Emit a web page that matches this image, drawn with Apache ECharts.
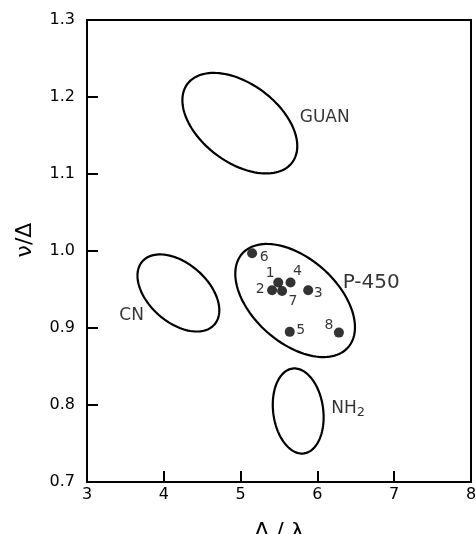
<!DOCTYPE html>
<html>
<head>
<meta charset="utf-8">
<script src="https://cdn.jsdelivr.net/npm/echarts@6/dist/echarts.min.js"></script>
<style>
  html, body { margin: 0; padding: 0; background: #fff; }
  #chart { width: 476px; height: 534px; }
</style>
</head>
<body>
<div id="chart"></div>
<script>
// numbered compounds
const pointNames = ['1', '2', '3', '4', '5', '6', '7', '8'];
const pointX = [5.49, 5.41, 5.88, 5.65, 5.64, 5.15, 5.54, 6.28];
const pointY = [0.959, 0.949, 0.949, 0.959, 0.895, 0.997, 0.948, 0.894];

// regions: centre and the two semi-axis vectors, in axis units
const regionNames = ['GUAN', 'CN', 'P-450', 'NH2'];
const regionCx = [4.99, 4.19, 5.71, 5.75];
const regionCy = [1.166, 0.9455, 0.9357, 0.7922];
const regionAxisA = [[0.683, -0.0509], [0.470, -0.0409], [0.690, -0.0608], [0.0745, -0.0551]];
const regionAxisB = [[-0.305, -0.0409], [-0.251, -0.0289], [-0.362, -0.0412], [-0.3226, -0.0044]];

// where the region names sit
const regionLabelX = [5.77, 3.42, 6.33, 6.18];
const regionLabelY = [1.173, 0.916, 0.959, 0.796];

const xTicks = [3, 8, 1];
const yTicks = [0.7, 1.3, 0.1];

const font = 'DejaVu Sans';
const labelOffsets = {
    '1': [-8, -9], '2': [-12, -1], '3': [10, 3], '4': [7, -11],
    '5': [11, -1], '6': [12, 4], '7': [11, 10], '8': [-10, -7]
};

const chart = echarts.init(document.getElementById('chart'));
chart.setOption({
    animation: false,
    grid: {
        left: 87, right: 5, top: 20, bottom: 52, outerBoundsMode: 'none',
        show: true, borderColor: '#000', borderWidth: 2
    },
    xAxis: {
        type: 'value', min: xTicks[0], max: xTicks[1], interval: xTicks[2],
        name: 'Λ / λ', nameLocation: 'middle', nameGap: 39,
        nameTextStyle: { fontFamily: font, fontSize: 22, color: '#000' },
        axisLine: { lineStyle: { color: '#000', width: 2 } },
        axisTick: { inside: true, length: 11, lineStyle: { color: '#000', width: 2 } },
        axisLabel: { fontFamily: font, fontSize: 16, color: '#000', margin: 5 },
        splitLine: { show: false }
    },
    yAxis: {
        type: 'value', min: yTicks[0], max: yTicks[1], interval: yTicks[2],
        name: 'ν/Δ', nameLocation: 'middle', nameGap: 51,
        nameTextStyle: { fontFamily: font, fontSize: 22, color: '#000', padding: [0, 0, 0, 22] },
        axisLine: { lineStyle: { color: '#000', width: 2 } },
        axisTick: { inside: true, length: 11, lineStyle: { color: '#000', width: 2 } },
        axisLabel: { fontFamily: font, fontSize: 16, color: '#000', margin: 12, formatter: v => v.toFixed(1) },
        splitLine: { show: false }
    },
    series: [
        {
            type: 'custom',
            silent: true,
            data: regionNames.map((n, i) => [regionCx[i], regionCy[i], i]),
            encode: { x: 0, y: 1 },
            renderItem: (params, api) => {
                const i = api.value(2);
                const a = regionAxisA[i], b = regionAxisB[i];
                const pts = [];
                for (let k = 0; k < 120; k++) {
                    const t = k / 120 * Math.PI * 2;
                    pts.push(api.coord([
                        regionCx[i] + a[0] * Math.cos(t) + b[0] * Math.sin(t),
                        regionCy[i] + a[1] * Math.cos(t) + b[1] * Math.sin(t)
                    ]));
                }
                return {
                    type: 'polygon',
                    shape: { points: pts },
                    style: { fill: 'none', stroke: '#000', lineWidth: 2.2 }
                };
            }
        },
        {
            type: 'scatter',
            silent: true,
            symbolSize: 0,
            data: regionNames.map((n, i) => ({ name: n, value: [regionLabelX[i], regionLabelY[i]] })),
            label: {
                show: true, position: 'right', distance: 0, color: '#000', fontFamily: font,
                fontSize: 17,
                formatter: p => p.name === 'NH2' ? '{n|NH}{s|2}' : (p.name === 'P-450' ? '{p|P-450}' : p.name),
                rich: {
                    n: { fontFamily: font, fontSize: 17, color: '#000', lineHeight: 22 },
                    s: { fontFamily: font, fontSize: 13, color: '#000', lineHeight: 22, padding: [10, 0, 0, 0] },
                    p: { fontFamily: font, fontSize: 20, color: '#000' }
                }
            }
        },
        {
            type: 'scatter',
            symbolSize: 10,
            itemStyle: { color: '#000' },
            data: pointNames.map((n, i) => ({
                name: n,
                value: [pointX[i], pointY[i]],
                label: { offset: labelOffsets[n] }
            })),
            label: {
                show: true, position: 'inside', formatter: p => p.name,
                color: '#000', fontFamily: font, fontSize: 14
            }
        }
    ]
});
</script>
</body>
</html>
